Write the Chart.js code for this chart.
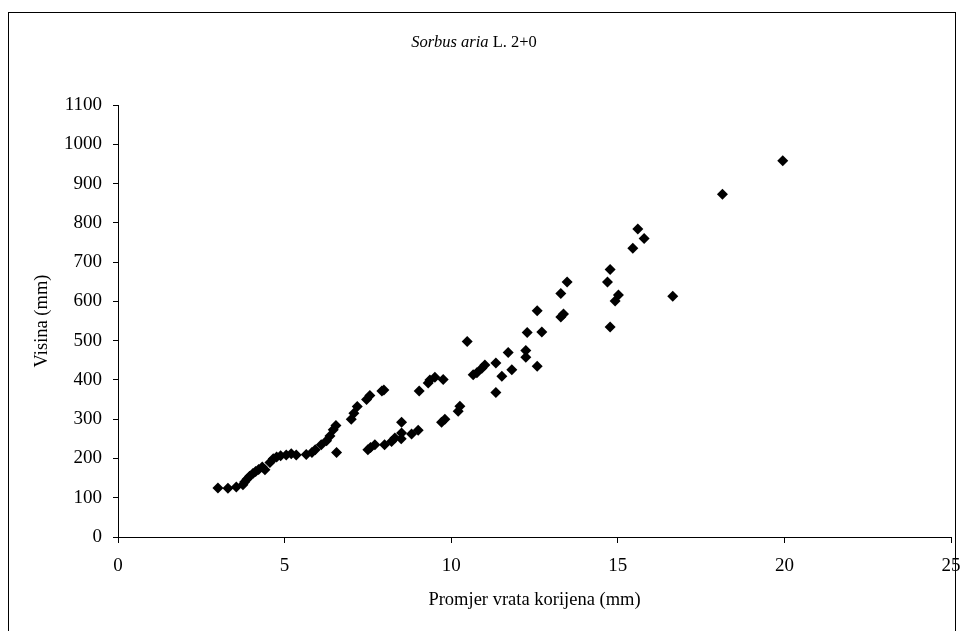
<!DOCTYPE html>
<html>
<head>
<meta charset="utf-8">
<script src="https://cdn.jsdelivr.net/npm/chart.js@4.4.1/dist/chart.umd.min.js"></script>
<style>
  html, body { margin: 0; padding: 0; background: #fff; }
  #wrap { width: 964px; height: 631px; position: relative; }
</style>
</head>
<body>
<div id="wrap"><canvas id="c" width="964" height="631"></canvas></div>
<script>
// Data
const titleItalic = "Sorbus aria";
const titleNormal = " L. 2+0";
const xAxisTitle = "Promjer vrata korijena (mm)";
const yAxisTitle = "Visina (mm)";

const diameters = [
  3.0, 3.3, 3.55, 3.75, 3.8, 3.87, 3.95, 4.05, 4.13, 4.22, 4.33, 4.41,
  4.56, 4.66, 4.76, 4.88, 5.05, 5.2, 5.35, 5.65, 5.82, 5.92,
  6.1, 6.26, 6.36, 6.46, 6.54, 6.56,
  7.0, 7.08, 7.18, 7.46, 7.56, 7.92, 7.98,
  7.5, 7.58, 7.71, 8.0, 8.21, 8.31, 8.51, 8.51, 8.5, 8.81, 9.01,
  9.04, 9.31, 9.36, 9.51, 9.76, 9.71, 9.81,
  10.21, 10.26, 10.48, 10.66, 10.77, 10.92, 11.01, 11.34, 11.34, 11.52,
  11.71, 11.82, 12.24, 12.24, 12.28, 12.58, 12.58, 12.72,
  13.29, 13.29, 13.37, 13.48, 14.69, 14.77, 14.77, 14.92, 15.02,
  15.45, 15.6, 15.79, 16.65, 18.14, 19.95
];
const heights = [
  125, 124, 127, 133, 140, 147, 155, 162, 167, 172, 178, 171,
  190, 199, 204, 207, 209, 212, 209, 210, 215, 222,
  235, 245, 257, 273, 284, 215,
  300, 315, 332, 350, 360, 372, 374,
  222, 228, 235, 235, 243, 252, 292, 265, 250, 262, 272,
  372, 392, 400, 407, 401, 292, 300,
  320, 333, 498, 413, 418, 430, 438, 443, 368, 409,
  470, 426, 475, 458, 521, 576, 435, 522,
  620, 560, 568, 649, 649, 681, 535, 601, 616,
  735, 784, 760, 613, 873, 958
];
const xTicks = [0, 5, 10, 15, 20, 25];
const yTicks = [0, 100, 200, 300, 400, 500, 600, 700, 800, 900, 1000, 1100];

const points = diameters.map((d, i) => ({ x: d, y: heights[i] }));

const serif = "'Liberation Serif', 'Times New Roman', serif";

const framePlugin = {
  id: 'frame',
  beforeDraw(chart) {
    const ctx = chart.ctx;
    ctx.save();
    ctx.fillStyle = '#fff';
    ctx.fillRect(0, 0, chart.width, chart.height);
    ctx.strokeStyle = '#000';
    ctx.lineWidth = 1;
    ctx.strokeRect(8.5, 12.5, 947, 700);
    ctx.restore();
  },
  afterDraw(chart) {
    const ctx = chart.ctx;
    ctx.save();
    ctx.fillStyle = '#000';
    ctx.textBaseline = 'middle';
    const fItal = "italic 16.5px " + serif;
    const fNorm = "16.5px " + serif;
    ctx.font = fItal;
    const w1 = ctx.measureText(titleItalic).width;
    ctx.font = fNorm;
    const w2 = ctx.measureText(titleNormal).width;
    const cx = 474;
    const start = cx - (w1 + w2) / 2;
    ctx.textAlign = 'left';
    ctx.font = fItal;
    ctx.fillText(titleItalic, start, 43);
    ctx.font = fNorm;
    ctx.fillText(titleNormal, start + w1, 43);
    ctx.restore();
  }
};

new Chart(document.getElementById('c'), {
  type: 'scatter',
  data: {
    datasets: [{
      data: points,
      pointStyle: 'rectRot',
      pointRadius: 5.5,
      pointHoverRadius: 5.5,
      backgroundColor: '#000',
      borderColor: '#000',
      borderWidth: 0
    }]
  },
  options: {
    responsive: false,
    animation: false,
    events: [],
    layout: { padding: { left: 0, top: 105, right: 13, bottom: 0 } },
    plugins: {
      legend: { display: false },
      tooltip: { enabled: false },
      title: { display: false }
    },
    scales: {
      x: {
        type: 'linear',
        min: 0, max: 25,
        afterBuildTicks(scale) { scale.ticks = xTicks.map(v => ({ value: v })); },
        afterFit(scale) { scale.height = 94; scale.paddingLeft = 0; scale.paddingRight = 0; },
        grid: { display: true, drawOnChartArea: false, drawTicks: true, tickLength: 6, color: '#000' },
        border: { display: true, color: '#000', width: 1 },
        ticks: { color: '#000', font: { family: serif, size: 19 }, padding: 12, maxRotation: 0,
                 callback: v => String(v) },
        title: { display: true, text: xAxisTitle, color: '#000', font: { family: serif, size: 18.5 }, padding: { top: 0, bottom: 20 } }
      },
      y: {
        type: 'linear',
        min: 0, max: 1100,
        afterBuildTicks(scale) { scale.ticks = yTicks.map(v => ({ value: v })); },
        afterFit(scale) { scale.width = 118; },
        grid: { display: true, drawOnChartArea: false, drawTicks: true, tickLength: 5, color: '#000' },
        border: { display: true, color: '#000', width: 1 },
        ticks: { color: '#000', font: { family: serif, size: 19 }, padding: 11,
                 callback: v => String(v) },
        title: { display: true, text: yAxisTitle, color: '#000', font: { family: serif, size: 18.5 }, padding: { top: 31, bottom: 0 } }
      }
    }
  },
  plugins: [framePlugin]
});
</script>
</body>
</html>
